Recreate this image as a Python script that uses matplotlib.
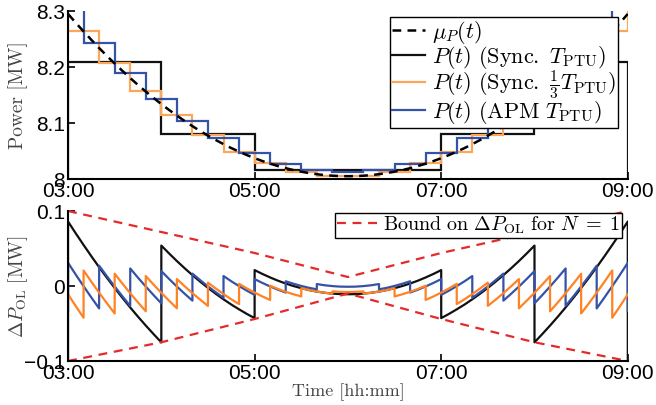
import matplotlib
matplotlib.use("Agg")
import matplotlib.pyplot as plt
import numpy as np

plt.rcParams['font.family'] = ['Liberation Sans', 'DejaVu Sans']
plt.rcParams['mathtext.fontset'] = 'cm'

# minutes after 03:00, 5 min grid for the expected power mu_P(t)
t_min = np.arange(0, 361, 5)
mu = np.array([8.295, 8.2791, 8.2637, 8.2487, 8.2341, 8.2200, 8.2064, 8.1932, 8.1804,
               8.1681, 8.1563, 8.1449, 8.1339, 8.1234, 8.1133, 8.1037, 8.0945, 8.0858,
               8.0775, 8.0697, 8.0623, 8.0553, 8.0489, 8.0428, 8.0372, 8.0321, 8.0274,
               8.0231, 8.0193, 8.0160, 8.0131, 8.0106, 8.0086, 8.0070, 8.0059, 8.0052,
               8.0050,
               8.0052, 8.0059, 8.0070, 8.0086, 8.0106, 8.0131, 8.0160, 8.0193, 8.0231,
               8.0274, 8.0321, 8.0372, 8.0428, 8.0489, 8.0553, 8.0623, 8.0697, 8.0775,
               8.0858, 8.0945, 8.1037, 8.1133, 8.1234, 8.1339, 8.1449, 8.1563, 8.1681,
               8.1804, 8.1932, 8.2064, 8.2200, 8.2341, 8.2487, 8.2637, 8.2791, 8.295])

# synchronous, one PTU (1 h)
sync_edges = [0, 60, 120, 180, 240, 300, 360]
sync_vals = [8.209, 8.080, 8.016, 8.016, 8.080, 8.209]
sync_outside = 8.402

# synchronous, 1/3 PTU (20 min)
third_edges = [0, 20, 40, 60, 80, 100, 120, 140, 160, 180, 200, 220, 240, 260, 280,
               300, 320, 340, 360]
third_vals = [8.264, 8.207, 8.157, 8.114, 8.078, 8.049, 8.028, 8.013, 8.006,
              8.006, 8.013, 8.028, 8.049, 8.078, 8.114, 8.157, 8.207, 8.264]
third_outside = 8.328

# APM
apm_edges = [0, 10, 30, 50, 70, 90, 110, 130, 150, 170, 190, 210, 230, 250, 270,
             290, 310, 330, 350, 360]
apm_vals = [8.306, 8.243, 8.190, 8.143, 8.104, 8.073, 8.046, 8.027, 8.016, 8.013,
            8.016, 8.027, 8.046, 8.073, 8.104, 8.143, 8.190, 8.243, 8.306]

# bound on open loop error
bound_t = [3, 4, 5, 6, 7, 8, 9]
bound_hi = [0.1, 0.072, 0.044, 0.012, 0.044, 0.072, 0.1]
bound_lo = [-0.1, -0.075, -0.044, -0.010, -0.044, -0.075, -0.1]

xticks = [3, 5, 7, 9]
xticklabels = ['03:00', '05:00', '07:00', '09:00']

c_blue = '#3553a6'
c_orange_top = '#fba658'
c_orange_bot = '#ff8224'
c_red = '#e42a2a'
c_label = '#444444'


def hours(m):
    return 3 + np.asarray(m, dtype=float) / 60


def ol_error(edges, vals, outside=None):
    xs, ys = [], []
    if outside is not None:
        xs.append(0)
        ys.append(mu[0] - outside)
    for a, b, p in zip(edges[:-1], edges[1:], vals):
        i, j = a // 5, b // 5
        xs.extend(t_min[i:j + 1])
        ys.extend(mu[i:j + 1] - p)
    if outside is not None:
        xs.append(360)
        ys.append(mu[-1] - outside)
    return hours(xs), np.array(ys)


fig = plt.figure(figsize=(6.56, 4.05), dpi=100)
ax1 = fig.add_axes([0.1037, 0.558, 0.8533, 0.4145])
ax2 = fig.add_axes([0.1037, 0.1086, 0.8533, 0.3704])

# top panel
ax1.plot(hours(t_min), mu, color='k', ls=(0, (3.5, 2.5)), lw=1.8, label=r'$\mu_P(t)$')
ax1.stairs(sync_vals, hours(sync_edges), baseline=7.9, color='#111111', lw=1.6,
           label=r'$P(t)\ \mathrm{(Sync.}\ T_{\mathrm{PTU}})$')
ax1.stairs(third_vals, hours(third_edges), baseline=third_outside, color=c_orange_top,
           lw=1.6, label=r'$P(t)\ \mathrm{(Sync.}\ \frac{1}{3}T_{\mathrm{PTU}})$')
ax1.stairs(apm_vals, hours(apm_edges), baseline=None, color=c_blue, lw=1.6,
           label=r'$P(t)\ \mathrm{(APM}\ T_{\mathrm{PTU}})$')
ax1.set_xlim(3, 9)
ax1.set_ylim(8.0, 8.3)
ax1.set_yticks([8.0, 8.1, 8.2, 8.3])
ax1.set_yticklabels(['8', '8.1', '8.2', '8.3'])
ax1.set_ylabel('Power [MW]', fontsize=14, color=c_label, family='cmr10')
ax1.yaxis.set_label_coords(-0.071, 0.5)
leg1 = ax1.legend(loc='upper right', bbox_to_anchor=(0.982, 0.965), fontsize=16,
                  frameon=True, fancybox=False, framealpha=1, edgecolor='k',
                  handlelength=1.5, handletextpad=0.3, borderpad=0.08, labelspacing=-0.1,
                  borderaxespad=0)
leg1.get_frame().set_linewidth(1.0)

# bottom panel
x, y = ol_error(sync_edges, sync_vals, sync_outside)
ax2.plot(x, y, color='#111111', lw=1.6)
x, y = ol_error(third_edges, third_vals, third_outside)
ax2.plot(x, y, color=c_blue, lw=1.6)
x, y = ol_error(apm_edges, apm_vals)
ax2.plot(x, y, color=c_orange_bot, lw=1.6)
ax2.plot(bound_t, bound_hi, color=c_red, ls=(0, (4, 3)), lw=1.6, clip_on=False,
         label=r'$\mathrm{Bound\ on}\ \Delta P_{\mathrm{OL}}\ \mathrm{for}\ N\;=\;1$')
ax2.plot(bound_t, bound_lo, color=c_red, ls=(0, (4, 3)), lw=1.6, clip_on=False)
ax2.set_xlim(3, 9)
ax2.set_ylim(-0.1, 0.1)
ax2.set_yticks([-0.1, 0, 0.1])
ax2.set_yticklabels(['\u22120.1', '0', '0.1'])
ax2.set_ylabel(r'$\Delta P_{\mathrm{OL}}\ \mathrm{[MW]}$', fontsize=14, color=c_label)
ax2.yaxis.set_label_coords(-0.068, 0.5)
ax2.set_xlabel('Time [hh:mm]', fontsize=13, color=c_label, family='cmr10', labelpad=0)
leg2 = ax2.legend(loc='upper right', bbox_to_anchor=(0.99, 0.99), fontsize=14.5,
                  frameon=True, fancybox=False, framealpha=1, edgecolor='k',
                  handlelength=2.0, handletextpad=0.3, borderpad=0.1, borderaxespad=0)
leg2.get_frame().set_linewidth(1.0)

for ax in (ax1, ax2):
    ax.set_xticks(xticks)
    ax.set_xticklabels(xticklabels)
    for s in ('top', 'right'):
        ax.spines[s].set_visible(False)
    for s in ('left', 'bottom'):
        ax.spines[s].set_linewidth(1.5)
    ax.tick_params(direction='in', length=5, width=1.2, labelsize=15, pad=2)

fig.savefig('out.png', dpi=100)
